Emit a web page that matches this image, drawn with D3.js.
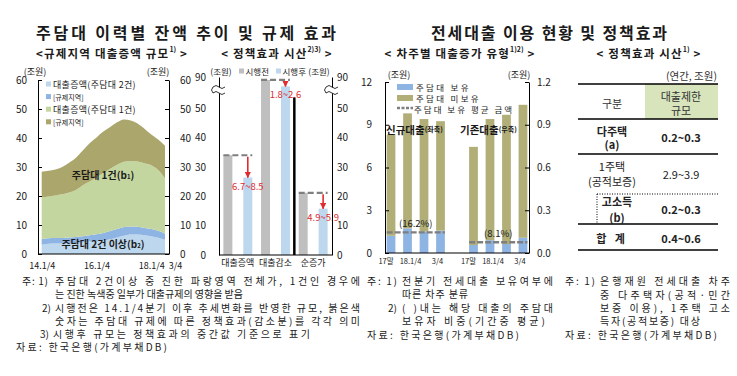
<!DOCTYPE html>
<html><head><meta charset="utf-8">
<script src="https://cdn.jsdelivr.net/npm/d3@7"></script>
<style>
body{margin:0;background:#fff;}
svg{display:block;font-family:"Noto Sans CJK KR","Noto Sans",sans-serif;}
</style></head><body>
<svg id="c" width="737" height="376"></svg>
<script>
// ---------- Panel 1 data: 규제지역 대출증액 규모 (조원) ----------
const quarters = ["14.1/4","14.2/4","14.3/4","14.4/4","15.1/4","15.2/4","15.3/4","15.4/4",
  "16.1/4","16.2/4","16.3/4","16.4/4","17.1/4","17.2/4","17.3/4","17.4/4","18.1/4","18.2/4","18.3/4"];
const twoLoanOther = [3.2,3.5,3.6,3.6,3.7,3.9,4.0,4.3,4.5,4.7,5.1,5.7,6.3,6.7,6.7,6.5,6.1,5.6,4.9];
const twoLoanRegulated = [2.0,1.9,1.9,1.9,2.0,2.0,2.1,2.2,2.3,2.5,2.8,2.9,3.0,2.8,2.7,2.5,2.5,2.4,2.1];
const oneLoanOther = [14.3,14.4,14.7,15.1,15.5,16.2,17.6,18.5,19.7,20.7,21.5,22.2,22.5,22.6,22.5,22.3,22.0,21.0,19.1];
const oneLoanRegulated = [8.9,8.9,8.9,9.4,10.3,11.1,12.0,13.2,13.7,14.3,14.4,14.6,14.6,13.9,13.1,11.9,10.6,10.5,11.2];
const p1TickQuarters = ["14.1/4","16.1/4","18.1/4","18.3/4"];
const p1TickLabels = ["14.1/4","16.1/4","18.1/4","3/4"];
const p1YTicks = [0,10,20,30,40,50,60];
const p1Legend = ["대출증액(주담대 2건)","[규제지역]","대출증액(주담대 1건)","[규제지역]"];

// ---------- Panel 2 data: 정책효과 시산 (조원) ----------
const policyCats = ["대출증액","대출감소","순증가"];
const beforeVals = [34.0, 89.0, 21.2];
const afterVals = [26.4, 86.8, 15.8];
const effectLabels = ["6.7~8.5","1.8~2.6","4.9~5.9"];
const p2YTicks = [0,10,20,30,40,50,90];

// ---------- Panel 3 data: 차주별 대출증가 유형 ----------
const periodLabels = ["17말","18.1/4","","3/4"];
const newHolder = [1.21,1.73,1.50,1.57];        // 신규대출 주담대 보유 (좌축)
const newNonHolder = [7.09,8.07,7.90,7.68];     // 신규대출 주담대 미보유 (좌축)
const oldHolder = [0.056,0.090,0.063,0.107];    // 기존대출 주담대 보유 (우축)
const oldNonHolder = [0.689,0.850,0.907,0.933]; // 기존대출 주담대 미보유 (우축)
const holderAvg = [1.45, 0.075];
const holderShare = ["(16.2%)","(8.1%)"];
const p3LeftTicks = [0,3,6,9,12];
const p3RightTicks = [0,0.3,0.6,0.9,1.2];

// ---------- Panel 4 table ----------
const tableCats = [["다주택","(a)"],["1주택","(공적보증)"],["고소득","(b)"],["합  계"]];
const tableVals = ["0.2~0.3","2.9~3.9","0.2~0.3","0.4~0.6"];
const tableBold = [true,false,true,true];

const svg = d3.select("#c");
const INK = "#1a1a1a";
function T(g,x,y,s,o={}){
  const t=g.append("text").attr("x",x).attr("y",y).text(s)
    .attr("font-size",o.fs||10).attr("text-anchor",o.a||"start")
    .attr("dominant-baseline","central").attr("fill",o.c||INK);
  if(o.w) t.attr("font-weight",o.w);
  if(o.len) t.attr("textLength",o.len).attr("lengthAdjust","spacing");
  if(o.ls!==undefined) t.attr("letter-spacing",o.ls);
  return t;
}
function subTitle(x,y,main,sup,fs,ls){
  const t=svg.append("text").attr("x",x).attr("y",y).attr("text-anchor","middle")
    .attr("dominant-baseline","central").attr("font-size",fs).attr("font-weight","bold").attr("fill",INK)
    .attr("letter-spacing",ls);
  t.append("tspan").text(main);
  t.append("tspan").text(sup).attr("font-size",7).attr("dy",-4).attr("letter-spacing",0);
  t.append("tspan").text(" >").attr("dy",4);
}
function styleAxis(g,fs){
  g.selectAll("path.domain").attr("stroke","#000");
  g.selectAll(".tick line").attr("stroke","#000");
  g.selectAll("text").attr("font-size",fs).attr("fill",INK)
    .attr("font-family",'"Noto Sans CJK KR",sans-serif');
}

// ---------- Titles ----------
T(svg,186,32,"주담대 이력별 잔액 추이 및 규제 효과",{fs:16,a:"middle",w:"bold",len:300});
T(svg,549,32,"전세대출 이용 현황 및 정책효과",{fs:16,a:"middle",w:"bold",len:236});
subTitle(112,53,"<규제지역 대출증액 규모","1)",11.5,1.2);
subTitle(277,53,"< 정책효과 시산","2)3)",11.5,1.2);
subTitle(460,53,"< 차주별 대출증가 유형","1)2)",11.5,1.2);
subTitle(649,53,"< 정책효과 시산","1)",11.5,1.2);

// ---------- Panel 1 ----------
const p1 = svg.append("g");
const x1 = d3.scalePoint().domain(quarters).range([41.7,165]);
const y1 = d3.scaleLinear().domain([0,60]).range([254,80]);
const rows1 = quarters.map((q,i)=>({q,a:twoLoanOther[i],b:twoLoanRegulated[i],c:oneLoanOther[i],d:oneLoanRegulated[i]}));
const stack1 = d3.stack().keys(["a","b","c","d"])(rows1);
const colors1 = ["#bdd7ee","#8db4e2","#c4d69f","#aaa66c"];
const area1 = d3.area().x(d=>x1(d.data.q)).y0(d=>y1(d[0])).y1(d=>y1(d[1])).curve(d3.curveMonotoneX);
p1.selectAll("path.layer").data(stack1).join("path").attr("class","layer")
  .attr("d",area1).attr("fill",(d,i)=>colors1[i]);
const ax1L = p1.append("g").attr("transform","translate(38,0)")
  .call(d3.axisLeft(y1).tickValues(p1YTicks).tickSize(-4).tickSizeOuter(0).tickPadding(11));
styleAxis(ax1L,10);
const ax1R = p1.append("g").attr("transform","translate(169,0)")
  .call(d3.axisRight(y1).tickValues(p1YTicks).tickSize(-4).tickSizeOuter(0).tickPadding(11));
styleAxis(ax1R,10);
p1.append("line").attr("x1",38).attr("x2",169).attr("y1",y1(0)).attr("y2",y1(0)).attr("stroke","#000");
const ax1B = p1.append("g").attr("transform",`translate(0,${y1(0)})`)
  .call(d3.axisBottom(x1).tickValues(p1TickQuarters).tickFormat((d,i)=>p1TickLabels[i]).tickSize(0).tickPadding(9));
ax1B.select("path.domain").remove();
styleAxis(ax1B,9);
ax1B.selectAll(".tick text").filter((d,i)=>i===3).attr("dx",10);
T(p1,35,71,"(조원)",{fs:9,a:"middle"});
T(p1,158,71,"(조원)",{fs:9,a:"middle"});
const lg1 = p1.append("g");
p1Legend.forEach((s,i)=>{
  const yy = 84 + i*12.6;
  lg1.append("rect").attr("x",46).attr("y",yy-2.5).attr("width",5).attr("height",5).attr("fill",colors1[i]);
  T(lg1,53,yy,s,{fs:i%2===0?9:7, ls:i%2===0?0.3:0});
});
T(p1,103,174,"주담대 1건(b",{fs:10,a:"middle",w:"bold"}).append("tspan").text("1").attr("font-size",6).attr("dy",2)
  .select(function(){return this.parentNode;}).append("tspan").text(")").attr("dy",-2);
T(p1,103,243,"주담대 2건 이상(b",{fs:10,a:"middle",w:"bold"}).append("tspan").text("2").attr("font-size",6).attr("dy",2)
  .select(function(){return this.parentNode;}).append("tspan").text(")").attr("dy",-2);

// ---------- Panel 2 ----------
const p2 = svg.append("g");
const x2 = d3.scaleBand().domain(policyCats).range([219,332]);
const x2in = d3.scaleBand().domain(["before","after"]).range([0,x2.bandwidth()]).paddingInner(0.55).paddingOuter(0.22);
const y2 = d3.scaleLinear().domain([0,50,80,90]).range([255,108.3,106.3,77]);
const rows2 = policyCats.map((c,i)=>({c,before:beforeVals[i],after:afterVals[i],lab:effectLabels[i]}));
p2.selectAll("rect.bf").data(rows2).join("rect").attr("class","bf")
  .attr("x",d=>x2(d.c)+x2in("before")).attr("width",x2in.bandwidth())
  .attr("y",d=>y2(d.before)).attr("height",d=>y2(0)-y2(d.before)).attr("fill","#bfbfbf");
p2.selectAll("rect.af").data(rows2).join("rect").attr("class","af")
  .attr("x",d=>x2(d.c)+x2in("after")).attr("width",x2in.bandwidth())
  .attr("y",d=>y2(d.after)).attr("height",d=>y2(0)-y2(d.after)).attr("fill","#bdd7ee");
p2.selectAll("line.dash").data(rows2).join("line").attr("class","dash")
  .attr("x1",d=>x2(d.c)+x2in("before")).attr("x2",d=>x2(d.c)+x2in("after")+x2in.bandwidth())
  .attr("y1",d=>y2(d.before)).attr("y2",d=>y2(d.before))
  .attr("stroke","#7f7f7f").attr("stroke-width",2.2).attr("stroke-dasharray","6,3");
const RED = "#e02b2f";
svg.append("defs").append("marker").attr("id","arr").attr("viewBox","0 0 10 10")
  .attr("refX",9).attr("refY",5).attr("markerWidth",4).attr("markerHeight",4).attr("orient","auto")
  .append("path").attr("d","M0,0L10,5L0,10Z").attr("fill",RED);
p2.selectAll("line.arr").data(rows2).join("line").attr("class","arr")
  .attr("x1",d=>x2(d.c)+x2in("after")+x2in.bandwidth()/2).attr("x2",d=>x2(d.c)+x2in("after")+x2in.bandwidth()/2)
  .attr("y1",d=>y2(d.before)+1.5).attr("y2",d=>y2(d.after))
  .attr("stroke",RED).attr("stroke-width",1.6).attr("marker-end","url(#arr)");
p2.selectAll("text.eff").data(rows2).join("text").attr("class","eff")
  .attr("x",d=>x2(d.c)+x2in("after")+x2in.bandwidth()/2).attr("y",d=>y2(d.after)+8)
  .attr("text-anchor","middle").attr("dominant-baseline","central")
  .attr("font-size",9.5).attr("fill",RED).text(d=>d.lab);
// separator line
p2.append("line").attr("x1",x2("순증가")).attr("x2",x2("순증가")).attr("y1",y2(0)).attr("y2",y2(83))
  .attr("stroke","#000").attr("stroke-width",2.5);
const ax2L = p2.append("g").attr("transform","translate(219,0)")
  .call(d3.axisLeft(y2).tickValues(p2YTicks).tickSize(0).tickPadding(13));
styleAxis(ax2L,10);
const ax2R = p2.append("g").attr("transform","translate(332,0)")
  .call(d3.axisRight(y2).tickValues(p2YTicks).tickSize(0).tickPadding(5));
styleAxis(ax2R,10);
p2.append("line").attr("x1",219).attr("x2",332).attr("y1",y2(0)).attr("y2",y2(0)).attr("stroke","#000");
const ax2B = p2.append("g").attr("transform",`translate(0,${y2(0)})`)
  .call(d3.axisBottom(x2).tickSize(0).tickPadding(5));
ax2B.select("path.domain").remove();
styleAxis(ax2B,9);
// axis breaks
[219,332].forEach(ax=>{
  const yb = 90;
  p2.append("path").attr("d",`M${ax-6},${yb-3} q3,-3 6,0 t6,0 L${ax+6},${yb+3} q-3,3 -6,0 t-6,0 Z`)
    .attr("fill","#fff").attr("stroke","none");
  p2.append("path").attr("d",`M${ax-6},${yb-3} q3,-3 6,0 t6,0`).attr("fill","none").attr("stroke","#000").attr("stroke-width",0.8);
  p2.append("path").attr("d",`M${ax-6},${yb+3} q3,-3 6,0 t6,0`).attr("fill","none").attr("stroke","#000").attr("stroke-width",0.8);
  p2.append("path").attr("d",`M${ax-6},${yb-3} q-3,3 0,6`).attr("fill","none").attr("stroke","#000").attr("stroke-width",0.8);
});
T(p2,221,71,"(조원)",{fs:8.5,a:"middle"});
p2.append("rect").attr("x",239).attr("y",68.5).attr("width",5).attr("height",5).attr("fill","#bfbfbf");
T(p2,245.5,71,"시행전",{fs:8.5});
p2.append("rect").attr("x",276).attr("y",68.5).attr("width",5).attr("height",5).attr("fill","#bdd7ee");
T(p2,282.5,71,"시행후",{fs:8.5});
T(p2,319,71,"(조원)",{fs:8.5,a:"middle"});

// ---------- Panel 3 ----------
const p3 = svg.append("g");
const slots = ["n0","n1","n2","n3","gap","o0","o1","o2","o3"];
const x3 = d3.scaleBand().domain(slots).range([385,529]).paddingInner(0.47).paddingOuter(0.1);
const y3L = d3.scaleLinear().domain([0,12]).range([253,82]);
const y3R = d3.scaleLinear().domain([0,1.2]).range([253,82]);
const BLUE3 = "#8db4e2", OLIVE3 = "#b1ae78";
const bars3 = [];
newHolder.forEach((v,i)=>bars3.push({s:"n"+i,h:v,n:newNonHolder[i],y:y3L,lab:periodLabels[i],k:i}));
oldHolder.forEach((v,i)=>bars3.push({s:"o"+i,h:v,n:oldNonHolder[i],y:y3R,lab:periodLabels[i],k:i}));
p3.selectAll("rect.h").data(bars3).join("rect").attr("class","h")
  .attr("x",d=>x3(d.s)).attr("width",x3.bandwidth())
  .attr("y",d=>d.y(d.h)).attr("height",d=>d.y(0)-d.y(d.h)).attr("fill",BLUE3);
p3.selectAll("rect.n").data(bars3).join("rect").attr("class","n")
  .attr("x",d=>x3(d.s)).attr("width",x3.bandwidth())
  .attr("y",d=>d.y(d.h+d.n)).attr("height",d=>d.y(d.h)-d.y(d.h+d.n)).attr("fill",OLIVE3);
const avgRows = [{a:"n0",b:"n3",v:holderAvg[0],y:y3L,lab:holderShare[0]},{a:"o0",b:"o3",v:holderAvg[1],y:y3R,lab:holderShare[1]}];
p3.selectAll("line.avg").data(avgRows).join("line").attr("class","avg")
  .attr("x1",d=>x3(d.a)).attr("x2",d=>x3(d.b)+x3.bandwidth())
  .attr("y1",d=>d.y(d.v)).attr("y2",d=>d.y(d.v))
  .attr("stroke","#7f7f7f").attr("stroke-width",2.4).attr("stroke-dasharray","6,2");
p3.selectAll("text.share").data(avgRows).join("text").attr("class","share")
  .attr("x",d=>(x3(d.a)+x3(d.b)+x3.bandwidth())/2).attr("y",d=>d.y(d.v)-9.5)
  .attr("text-anchor","middle").attr("dominant-baseline","central").attr("font-size",9.5).attr("fill",INK).text(d=>d.lab);
const ax3L = p3.append("g").attr("transform","translate(385,0)")
  .call(d3.axisLeft(y3L).tickValues(p3LeftTicks).tickSize(-4).tickSizeOuter(0).tickPadding(13));
styleAxis(ax3L,10);
const ax3R = p3.append("g").attr("transform","translate(529,0)")
  .call(d3.axisRight(y3R).tickValues(p3RightTicks).tickFormat(d3.format(".1f")).tickSize(-4).tickSizeOuter(0).tickPadding(8));
styleAxis(ax3R,10);
p3.append("line").attr("x1",385).attr("x2",529).attr("y1",y3L(0)).attr("y2",y3L(0)).attr("stroke","#000");
const labShift = [-5,3,0,-3];
p3.selectAll("text.xl").data(bars3.filter(d=>d.lab)).join("text").attr("class","xl")
  .attr("x",d=>x3(d.s)+x3.bandwidth()/2).attr("dx",d=>labShift[d.k]).attr("y",260)
  .attr("text-anchor","middle").attr("dominant-baseline","central").attr("font-size",7.5).attr("fill",INK).text(d=>d.lab);
T(p3,399,74,"(조원)",{fs:9,a:"middle"});
T(p3,519,74,"(조원)",{fs:9,a:"middle"});
p3.append("rect").attr("x",397).attr("y",84).attr("width",16).attr("height",6).attr("fill",BLUE3);
T(p3,416,87,"주담대 보유",{fs:8.5,ls:2.3});
p3.append("rect").attr("x",397).attr("y",95).attr("width",16).attr("height",6).attr("fill",OLIVE3);
T(p3,416,98,"주담대 미보유",{fs:8.5,ls:2.3});
p3.append("line").attr("x1",397).attr("x2",413).attr("y1",108).attr("y2",108).attr("stroke","#7f7f7f").attr("stroke-width",2.4).attr("stroke-dasharray","3,1.5");
T(p3,414,108.5,"주담대 보유 평균 금액",{fs:8.5,ls:2});
{
  const t1 = T(p3,386,129,"신규대출",{fs:10.5,w:"bold"});
  t1.append("tspan").text("(좌축)").attr("font-size",7);
  const t2 = T(p3,460,129,"기존대출",{fs:10.5,w:"bold"});
  t2.append("tspan").text("(우축)").attr("font-size",7);
}

// ---------- Panel 4: table ----------
const p4 = svg.append("g");
const TL = 578, TR = 718, TC1 = 612, TC2 = 681;
T(p4,717,75,"(연간, 조원)",{fs:10.5,a:"end",c:"#333"});
p4.append("rect").attr("x",645).attr("y",84).attr("width",TR-645).attr("height",35).attr("fill","#d8e4bc");
[84,119,154,224,250].forEach(yy=>p4.append("line").attr("x1",TL).attr("x2",TR).attr("y1",yy).attr("y2",yy).attr("stroke","#000").attr("stroke-width",1.4));
p4.append("line").attr("x1",597).attr("x2",TR).attr("y1",194).attr("y2",194).attr("stroke","#000").attr("stroke-width",1).attr("stroke-dasharray","1,1.5");
p4.append("line").attr("x1",597).attr("x2",597).attr("y1",194).attr("y2",224).attr("stroke","#000").attr("stroke-width",1).attr("stroke-dasharray","1,1.5");
T(p4,TC1,103,"구분",{fs:11,a:"middle",c:"#333"});
T(p4,TC2,96,"대출제한",{fs:11,a:"middle",c:"#333"});
T(p4,TC2,110,"규모",{fs:11,a:"middle",c:"#333"});
const rowY = [[131,144,137],[166,181,174],[201,217,209],[238,238,238]];
const rowX = [TC1,TC1,617,TC1];
tableCats.forEach((c,i)=>{
  const w = tableBold[i]?"bold":null;
  if(c.length===2){
    T(p4,rowX[i],rowY[i][0],c[0],{fs:11,a:"middle",w,c:"#222"});
    T(p4,rowX[i],rowY[i][1],c[1],{fs:11,a:"middle",w,c:"#222"});
  } else {
    T(p4,rowX[i],rowY[i][0],c[0],{fs:11,a:"middle",w,c:"#222",ls:3});
  }
  T(p4,TC2,rowY[i][2],tableVals[i],{fs:11,a:"middle",w,c:"#222"});
});

// ---------- Notes ----------
const nf = 10;
const notes = svg.append("g");
T(notes,22,280,"주: 1)",{fs:nf,len:26});
T(notes,55,280,"주담대 2건이상 중 진한 파랑영역 전체가, 1건인 경우에",{fs:nf,len:305});
T(notes,55,293,"는 진한 녹색중 일부가 대출규제의 영향을 받음",{fs:nf,len:188});
T(notes,42,307,"2)",{fs:nf});
T(notes,55,307,"시행전은 14.1/4분기 이후 추세변화를 반영한 규모, 붉은색",{fs:nf,len:305});
T(notes,55,320,"숫자는 주담대 규제에 따른 정책효과(감소분)를 각각 의미",{fs:nf,len:305});
T(notes,40,333,"3)",{fs:nf});
T(notes,53,333,"시행후 규모는 정책효과의 중간값 기준으로 표기",{fs:nf,len:257});
T(notes,16,346,"자료: 한국은행(가계부채DB)",{fs:nf,len:151});

T(notes,367,280,"주: 1)",{fs:nf,len:30});
T(notes,402,280,"전분기 전세대출 보유여부에",{fs:nf,len:151});
T(notes,402,293,"따른 차주 분류",{fs:nf,len:66});
T(notes,388,307,"2)",{fs:nf});
T(notes,402,307,"( )내는 해당 대출의 주담대",{fs:nf,len:151});
T(notes,402,320,"보유자 비중(기간중 평균)",{fs:nf,len:143});
T(notes,367,334,"자료: 한국은행(가계부채DB)",{fs:nf,len:152});

T(notes,565,280,"주: 1)",{fs:nf,len:30});
T(notes,600,280,"은행재원 전세대출 차주",{fs:nf,len:130});
T(notes,600,294,"중 다주택자(공적·민간",{fs:nf,len:130});
T(notes,600,307,"보증 이용), 1주택 고소",{fs:nf,len:130});
T(notes,600,320,"득자(공적보증) 대상",{fs:nf,len:100});
T(notes,565,334,"자료: 한국은행(가계부채DB)",{fs:nf,len:152});
</script>
</body></html>
